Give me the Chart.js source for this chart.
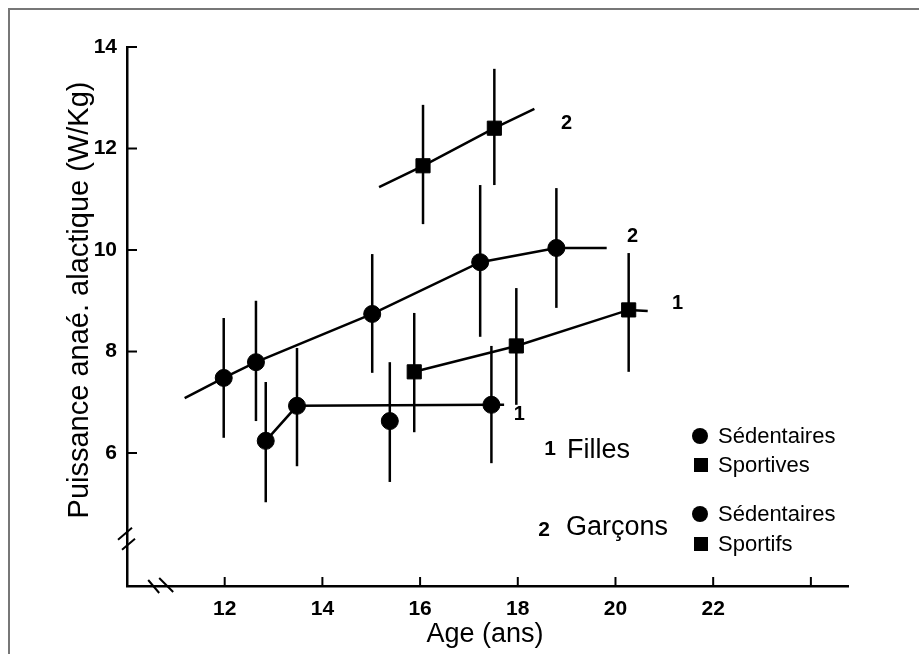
<!DOCTYPE html>
<html>
<head>
<meta charset="utf-8">
<script src="https://cdn.jsdelivr.net/npm/chart.js@4.4.1/dist/chart.umd.min.js"></script>
<style>
html,body{margin:0;padding:0;background:#fff;}
#wrap{position:relative;width:919px;height:654px;overflow:hidden;}
#frame{position:absolute;left:8px;top:8px;width:960px;height:700px;border-left:2px solid #777;border-top:2px solid #777;}
canvas{position:absolute;left:0;top:0;}
</style>
</head>
<body>
<div id="wrap"><div id="frame"></div><canvas id="chart" width="919" height="654"></canvas></div>
<script>
// values: age (years) and power (W/kg), mean with low/high bar ends

// boys, sportifs (squares)
const boysSportAge = [16.06, 17.52];
const boysSportMean = [11.66, 12.40];
const boysSportLow = [10.51, 11.28];
const boysSportHigh = [12.86, 13.57];
const boysSportLineAge = [15.16, 16.06, 17.52, 18.34];
const boysSportLineVal = [11.24, 11.66, 12.40, 12.78];

// boys, sedentaires (circles)
const boysSedAge = [11.98, 12.64, 15.02, 17.23, 18.79];
const boysSedMean = [7.48, 7.79, 8.74, 9.76, 10.04];
const boysSedLow = [6.30, 6.63, 7.58, 8.29, 8.86];
const boysSedHigh = [8.66, 9.00, 9.92, 11.28, 11.22];
const boysSedLineAge = [11.18, 11.98, 12.64, 15.02, 17.23, 18.79, 19.82];
const boysSedLineVal = [7.08, 7.48, 7.79, 8.74, 9.76, 10.04, 10.04];

// girls, sportives (squares)
const girlsSportAge = [15.88, 17.97, 20.27];
const girlsSportMean = [7.60, 8.11, 8.82];
const girlsSportLow = [6.41, 6.95, 7.60];
const girlsSportHigh = [8.76, 9.25, 9.94];
const girlsSportLineAge = [15.88, 17.97, 20.27, 20.66];
const girlsSportLineVal = [7.60, 8.11, 8.82, 8.80];

// girls, sedentaires (circles)
const girlsSedAge = [12.84, 13.48, 15.38, 17.46];
const girlsSedMean = [6.24, 6.93, 6.63, 6.95];
const girlsSedLow = [5.03, 5.74, 5.43, 5.80];
const girlsSedHigh = [7.40, 8.07, 7.79, 8.11];
const girlsSedLineAge = [12.84, 13.48, 17.46, 17.72];
const girlsSedLineVal = [6.24, 6.93, 6.95, 6.95];

// axes
const xTicks = [12, 14, 16, 18, 20, 22, 24];
const xTickLabels = ['12', '14', '16', '18', '20', '22', ''];
const yTicks = [6, 8, 10, 12, 14];

const FONT = '"Liberation Sans", Arial, Helvetica, sans-serif';

function pts(xs, ys) { return xs.map((x, i) => ({x: x, y: ys[i]})); }

function lineSet(xs, ys) {
  return {data: pts(xs, ys), showLine: true, pointRadius: 0, borderColor: '#000', borderWidth: 2.5, fill: false};
}
function markSet(xs, ys, style) {
  return {data: pts(xs, ys), showLine: false, pointStyle: style, pointRadius: style === 'rect' ? 10 : 8.5,
    backgroundColor: '#000', borderColor: '#000', borderWidth: 1};
}

const errorGroups = [
  [boysSportAge, boysSportLow, boysSportHigh],
  [boysSedAge, boysSedLow, boysSedHigh],
  [girlsSportAge, girlsSportLow, girlsSportHigh],
  [girlsSedAge, girlsSedLow, girlsSedHigh]
];

// error bars under the markers
const errorBars = {
  id: 'errorBars',
  beforeDatasetsDraw(chart) {
    const ctx = chart.ctx, xs = chart.scales.x, ys = chart.scales.y;
    ctx.save();
    ctx.strokeStyle = '#000';
    ctx.lineWidth = 2.5;
    errorGroups.forEach(g => {
      g[0].forEach((age, i) => {
        const px = xs.getPixelForValue(age);
        ctx.beginPath();
        ctx.moveTo(px, ys.getPixelForValue(g[1][i]));
        ctx.lineTo(px, ys.getPixelForValue(g[2][i]));
        ctx.stroke();
      });
    });
    ctx.restore();
  }
};

// inward ticks, axis breaks, titles, labels and the legend box
const decor = {
  id: 'decor',
  afterDraw(chart) {
    const ctx = chart.ctx, xs = chart.scales.x, ys = chart.scales.y;
    const ax = chart.chartArea.left, ay = chart.chartArea.bottom;
    ctx.save();
    ctx.strokeStyle = '#000';
    ctx.fillStyle = '#000';
    ctx.lineWidth = 2;
    yTicks.forEach(v => {
      const py = ys.getPixelForValue(v);
      ctx.beginPath(); ctx.moveTo(ax, py); ctx.lineTo(ax + 10, py); ctx.stroke();
    });
    xTicks.forEach(v => {
      const px = xs.getPixelForValue(v);
      ctx.beginPath(); ctx.moveTo(px, ay); ctx.lineTo(px, ay - 9); ctx.stroke();
    });
    // breaks
    const by = ys.getPixelForValue(4.33);
    ctx.beginPath();
    ctx.moveTo(ax - 9, by + 2); ctx.lineTo(ax + 5, by - 10);
    ctx.moveTo(ax - 5, by + 12); ctx.lineTo(ax + 8, by + 1);
    ctx.stroke();
    const bx = xs.getPixelForValue(10.7);
    ctx.beginPath();
    ctx.moveTo(bx - 13, ay - 6); ctx.lineTo(bx - 2, ay + 7);
    ctx.moveTo(bx - 2, ay - 8); ctx.lineTo(bx + 12, ay + 6);
    ctx.stroke();

    // axis titles
    ctx.font = '27px ' + FONT;
    ctx.textAlign = 'center';
    ctx.textBaseline = 'alphabetic';
    ctx.fillText('Age (ans)', 485, 642);
    ctx.save();
    ctx.translate(88, 300);
    ctx.rotate(-Math.PI / 2);
    ctx.font = '29px ' + FONT;
    ctx.fillText('Puissance anaé. alactique (W/Kg)', 0, 0);
    ctx.restore();

    // curve numbers
    ctx.font = 'bold 20px ' + FONT;
    ctx.textBaseline = 'middle';
    [['2', 19.0, 12.50], ['2', 20.35, 10.26], ['1', 21.27, 8.94], ['1', 18.03, 6.75]].forEach(l => {
      ctx.fillText(l[0], xs.getPixelForValue(l[1]), ys.getPixelForValue(l[2]));
    });

    // legend
    ctx.font = 'bold 21px ' + FONT;
    ctx.fillText('1', 550, 449);
    ctx.fillText('2', 544, 530);
    ctx.textAlign = 'left';
    ctx.textBaseline = 'alphabetic';
    ctx.font = '27px ' + FONT;
    ctx.fillText('Filles', 567, 458);
    ctx.fillText('Garçons', 566, 535);
    ctx.font = '22px ' + FONT;
    ctx.textBaseline = 'middle';
    [['circle', 436, 'Sédentaires'], ['rect', 465, 'Sportives'], ['circle', 514, 'Sédentaires'], ['rect', 544, 'Sportifs']].forEach(e => {
      if (e[0] === 'circle') {
        ctx.beginPath(); ctx.arc(700, e[1], 8, 0, Math.PI * 2); ctx.fill();
      } else {
        ctx.fillRect(694, e[1] - 7, 14, 14);
      }
      ctx.fillText(e[2], 718, e[1] + 1);
    });
    ctx.restore();
  }
};

const tickFont = {family: FONT, size: 21, weight: 'bold'};

new Chart(document.getElementById('chart'), {
  type: 'scatter',
  data: {
    datasets: [
      lineSet(boysSportLineAge, boysSportLineVal),
      lineSet(boysSedLineAge, boysSedLineVal),
      lineSet(girlsSportLineAge, girlsSportLineVal),
      lineSet(girlsSedLineAge, girlsSedLineVal),
      markSet(boysSportAge, boysSportMean, 'rect'),
      markSet(boysSedAge, boysSedMean, 'circle'),
      markSet(girlsSportAge, girlsSportMean, 'rect'),
      markSet(girlsSedAge, girlsSedMean, 'circle')
    ]
  },
  options: {
    responsive: false,
    animation: false,
    events: [],
    layout: {padding: {left: 0, top: 47, right: 71, bottom: 0}},
    plugins: {legend: {display: false}, tooltip: {enabled: false}},
    scales: {
      x: {
        type: 'linear', min: 10, max: 24.76,
        afterBuildTicks: s => { s.ticks = xTicks.map(v => ({value: v})); },
        afterFit: s => { s.height = 68; },
        grid: {display: false, drawTicks: false},
        border: {display: true, color: '#000', width: 2.5},
        ticks: {color: '#000', font: tickFont, padding: 11, maxRotation: 0, autoSkip: false,
          callback: (v, i) => xTickLabels[i]}
      },
      y: {
        type: 'linear', min: 3.38, max: 14,
        afterBuildTicks: s => { s.ticks = yTicks.map(v => ({value: v})); },
        afterFit: s => { s.width = 127; },
        grid: {display: false, drawTicks: false},
        border: {display: true, color: '#000', width: 2.5},
        ticks: {color: '#000', font: tickFont, padding: 10, autoSkip: false}
      }
    }
  },
  plugins: [errorBars, decor]
});
</script>
</body>
</html>
